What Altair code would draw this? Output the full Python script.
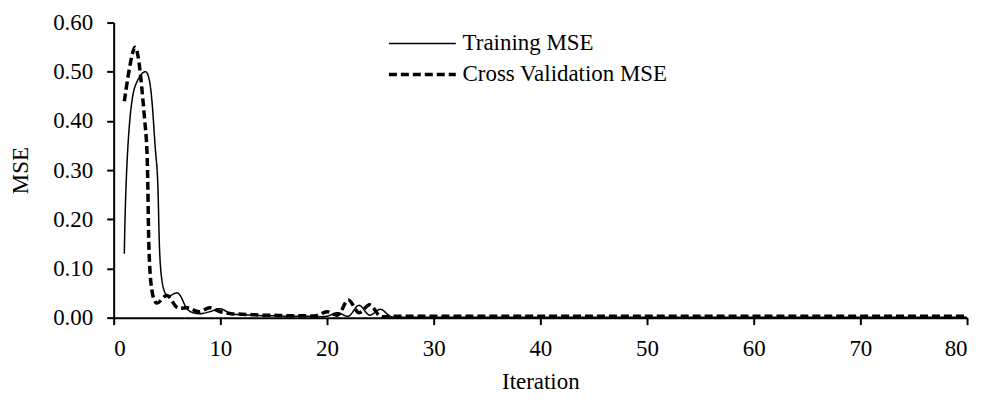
import altair as alt
import pandas as pd

iteration = list(range(1, 81))

training_mse = [
    0.13, 0.47, 0.50, 0.32, 0.045, 0.05, 0.015, 0.008, 0.012, 0.018,
    0.008, 0.006, 0.005, 0.004, 0.004, 0.003, 0.003, 0.003, 0.002, 0.003,
    0.010, 0.003, 0.025, 0.005, 0.017, 0.002, 0.001, 0.001, 0.001, 0.001,
    0.001, 0.001, 0.001, 0.001, 0.001, 0.001, 0.001, 0.001, 0.001, 0.001,
    0.001, 0.001, 0.001, 0.001, 0.001, 0.001, 0.001, 0.001, 0.001, 0.001,
    0.001, 0.001, 0.001, 0.001, 0.001, 0.001, 0.001, 0.001, 0.001, 0.001,
    0.001, 0.001, 0.001, 0.001, 0.001, 0.001, 0.001, 0.001, 0.001, 0.001,
    0.001, 0.001, 0.001, 0.001, 0.001, 0.001, 0.001, 0.001, 0.001, 0.001,
]

cv_mse = [
    0.44, 0.55, 0.38, 0.03, 0.045, 0.02, 0.02, 0.012, 0.02, 0.012,
    0.008, 0.007, 0.006, 0.005, 0.005, 0.004, 0.004, 0.004, 0.004, 0.012,
    0.005, 0.036, 0.010, 0.026, 0.003, 0.003, 0.003, 0.003, 0.003, 0.003,
    0.003, 0.003, 0.003, 0.003, 0.003, 0.003, 0.003, 0.003, 0.003, 0.003,
    0.003, 0.003, 0.003, 0.003, 0.003, 0.003, 0.003, 0.003, 0.003, 0.003,
    0.003, 0.003, 0.003, 0.003, 0.003, 0.003, 0.003, 0.003, 0.003, 0.003,
    0.003, 0.003, 0.003, 0.003, 0.003, 0.003, 0.003, 0.003, 0.003, 0.003,
    0.003, 0.003, 0.003, 0.003, 0.003, 0.003, 0.003, 0.003, 0.003, 0.003,
]

series_names = ["Training MSE", "Cross Validation MSE"]

df = pd.concat([
    pd.DataFrame({"Iteration": iteration, "MSE": training_mse, "Series": series_names[0]}),
    pd.DataFrame({"Iteration": iteration, "MSE": cv_mse, "Series": series_names[1]}),
])

FONT = "Liberation Serif"
FS = 23

legend = alt.Legend(
    title=None,
    orient="none",
    legendX=319,
    legendY=9,
    padding=0,
    symbolType="M-5,0H1",
    symbolSize=500,
    symbolStrokeColor="black",
    symbolFillColor="transparent",
    labelFont=FONT,
    labelFontSize=FS,
    labelColor="black",
    labelOffset=5,
    labelLimit=500,
    rowPadding=6,
)

chart = alt.Chart(df).mark_line(interpolate="catmull-rom", color="black").encode(
    x=alt.X("Iteration:Q",
            scale=alt.Scale(domain=[0, 80], nice=False),
            axis=alt.Axis(values=[0, 10, 20, 30, 40, 50, 60, 70, 80], title="Iteration",
                          titleBaseline="alphabetic", titleY=71, labelPadding=13)),
    y=alt.Y("MSE:Q",
            scale=alt.Scale(domain=[0, 0.6], nice=False),
            axis=alt.Axis(values=[0, 0.1, 0.2, 0.3, 0.4, 0.5, 0.6], format=".2f",
                          title="MSE", titlePadding=20, labelPadding=14)),
    strokeDash=alt.StrokeDash("Series:N",
                              scale=alt.Scale(domain=series_names, range=[[1, 0], [8, 4]]),
                              legend=legend),
    strokeWidth=alt.StrokeWidth("Series:N",
                                scale=alt.Scale(domain=series_names, range=[1.5, 3.5]),
                                legend=legend),
).properties(
    width=856,
    height=296,
    autosize=alt.AutoSizeParams(type="none"),
    padding={"left": 106, "top": 14, "right": 12, "bottom": 80},
).configure_view(
    stroke=None
).configure_axis(
    grid=False,
    domainColor="black",
    domainWidth=2,
    tickColor="black",
    tickWidth=2,
    tickSize=7,
    labelFont=FONT,
    labelFontSize=FS,
    labelColor="black",
    titleFont=FONT,
    titleFontSize=FS,
    titleFontWeight="normal",
    titleColor="black",
)

chart.save("out.html", embed_options={"renderer": "svg", "actions": False})
